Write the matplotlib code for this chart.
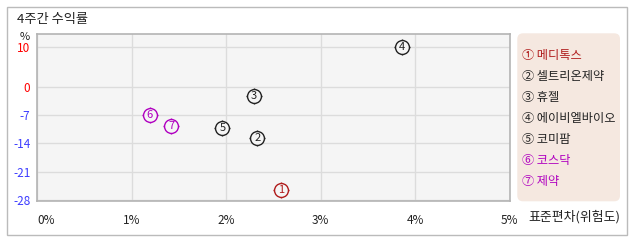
import matplotlib
matplotlib.use("Agg")
import matplotlib.pyplot as plt
from matplotlib.patches import FancyBboxPatch, Rectangle

plt.rcParams['font.family'] = ['Noto Sans CJK KR', 'DejaVu Sans']

names = ['메디톡스', '셀트리온제약', '휴젤', '에이비엘바이오', '코미팜', '코스닥', '제약']
nums = ['1', '2', '3', '4', '5', '6', '7']
circled = ['①', '②', '③', '④', '⑤', '⑥', '⑦']
std = [2.58, 2.33, 2.29, 3.86, 1.96, 1.19, 1.42]
ret = [-25.6, -12.6, -2.3, 10.0, -10.1, -6.9, -9.6]
colors = ['#b01c1c', '#222222', '#222222', '#222222', '#222222', '#b000c0', '#b000c0']

xticks = [0, 1, 2, 3, 4, 5]
xticklabels = ['0%', '1%', '2%', '3%', '4%', '5%']
yticks = [10, 0, -7, -14, -21, -28]

W, H = 638, 242
fig = plt.figure(figsize=(W / 100, H / 100), dpi=100)

def fx(px):
    return px / W

def fy(py):
    return 1 - py / H

# outer border
fig.patches.append(Rectangle((fx(7), fy(235)), fx(620), 228 / H, transform=fig.transFigure,
                             fill=False, edgecolor='#bbbbbb', lw=1))

ax = fig.add_axes([fx(37.3), fy(201), (509.7 - 37.3) / W, (201 - 34) / H])
ax.set_facecolor('#f5f5f5')
ax.set_xlim(0, 5)
ax.set_ylim(-28.3, 13.2)
ax.set_xticks(xticks)
ax.set_xticklabels(xticklabels)
ax.set_yticks(yticks)
ax.set_yticklabels([str(v) for v in yticks])
for lab, v in zip(ax.get_yticklabels(), yticks):
    lab.set_color('#ff0000' if v >= 0 else '#3c3cff')
ax.get_xticklabels()[0].set_horizontalalignment('left')
ax.tick_params(axis='both', length=0, labelsize=8.5)
ax.tick_params(axis='x', pad=9, colors='#222222')
ax.tick_params(axis='y', pad=5)
ax.grid(True, color='#dcdcdc', lw=1)
ax.set_axisbelow(True)
for s in ax.spines.values():
    s.set_color('#b4b4b4')
    s.set_linewidth(1.2)

for x, y, c, n in zip(std, ret, colors, nums):
    ax.plot([x], [y], marker='+', markersize=11.5, mew=1, color=c, zorder=3)
    ax.plot([x], [y], marker='o', markersize=10, mew=1, mec=c, mfc='#f5f5f5', zorder=4)
    ax.text(x, y, n, color=c, fontsize=8, ha='center', va='center', zorder=5)

# title and axis labels
fig.text(fx(17), fy(20), '4주간 수익률', fontsize=9.5, ha='left', va='center', color='#222222')
fig.text(fx(25), fy(36.5), '%', fontsize=8, ha='center', va='center', color='#222222')
fig.text(fx(528), fy(216.5), '표준편차(위험도)', fontsize=9.3, ha='left', va='center', color='#222222')

# legend box
fig.patches.append(FancyBboxPatch((fx(517.3), fy(201.3)), (620 - 517.3) / W, (201.3 - 33.3) / H,
                                  boxstyle='round,pad=0,rounding_size=0.009',
                                  transform=fig.transFigure, facecolor='#f5e8e0',
                                  edgecolor='none', mutation_aspect=W / H))
leg_y = [55, 76.5, 97.5, 118.8, 140, 160.7, 181.3]
for cy, c, cc, nm in zip(leg_y, colors, circled, names):
    fig.text(fx(521.5), fy(cy), cc + '\u2009' + nm, fontsize=8.8, color=c, ha='left', va='center')

fig.savefig('out.png', dpi=100)
